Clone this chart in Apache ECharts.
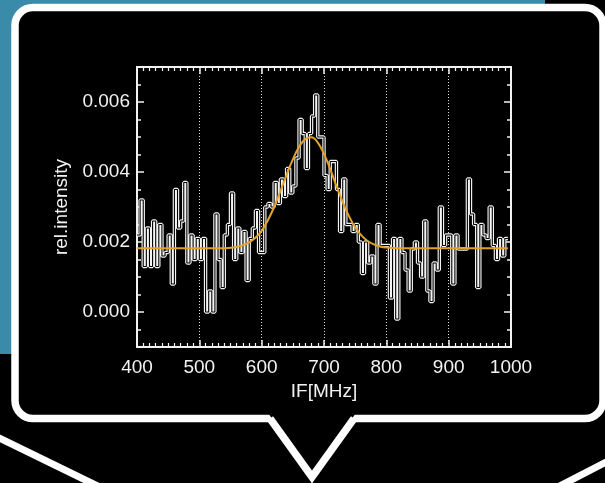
<!DOCTYPE html>
<html>
<head>
<meta charset="utf-8">
<script src="https://cdn.jsdelivr.net/npm/echarts@6/dist/echarts.min.js"></script>
<style>
  html, body { margin: 0; padding: 0; background: #000; }
  #chart { width: 605px; height: 483px; }
</style>
</head>
<body>
<div id="chart"></div>
<script>
// histogram of rel. intensity, 5 MHz bins per 100 MHz block
const binStart = 400
const binWidth = 5
const int400s = [0.0022, 0.0032, 0.0013, 0.0024, 0.0013, 0.0026, 0.0013, 0.0025, 0.0016, 0.0017,
                 0.0022, 0.0008, 0.0035, 0.0024, 0.0026, 0.0037, 0.0014, 0.0022, 0.0015, 0.0021]
const int500s = [0.0015, 0.0021, 0.0000, 0.0006, 0.0000, 0.0028, 0.0015, 0.0007, 0.0022, 0.0025,
                 0.0034, 0.0015, 0.0024, 0.0017, 0.0023, 0.0009, 0.0021, 0.0024, 0.0029, 0.0017]
const int600s = [0.0017, 0.0030, 0.0031, 0.0030, 0.0037, 0.0031, 0.0038, 0.0033, 0.0041, 0.0034,
                 0.0036, 0.0044, 0.0055, 0.0051, 0.0041, 0.0051, 0.0056, 0.0062, 0.0050, 0.0050]
const int700s = [0.0039, 0.0035, 0.0043, 0.0043, 0.0035, 0.0023, 0.0038, 0.0025, 0.0025, 0.0023,
                 0.0025, 0.0020, 0.0011, 0.0020, 0.0014, 0.0016, 0.0008, 0.0025, 0.0019, 0.0019]
const int800s = [0.0019, 0.0004, 0.0021, -0.0002, 0.0021, 0.0017, 0.0012, 0.0006, 0.0018, 0.0020,
                 0.0014, 0.0010, 0.0026, 0.0006, 0.0003, 0.0014, 0.0012, 0.0030, 0.0019, 0.0022]
const int900s = [0.0022, 0.0008, 0.0022, 0.0018, 0.0018, 0.0018, 0.0038, 0.0028, 0.0025, 0.0007,
                 0.0025, 0.0022, 0.0021, 0.0030, 0.0019, 0.0015, 0.0021, 0.0016, 0.0021]

// gaussian fit curve (orange)
const fitFreq = [400, 450, 500, 520, 540, 560, 570, 580, 590, 600, 610, 620, 630, 640, 650, 660, 670,
                 680, 690, 700, 710, 720, 730, 740, 750, 760, 770, 780, 790, 800, 820, 860, 900, 950, 995]
const fitVal = [0.00182, 0.00182, 0.00182, 0.00182, 0.00182, 0.00186, 0.00191, 0.00199, 0.00212, 0.00232,
                0.00262, 0.00300, 0.00345, 0.00392, 0.00436, 0.00472, 0.00494, 0.00499, 0.00484, 0.00452,
                0.00408, 0.00360, 0.00314, 0.00274, 0.00242, 0.00219, 0.00203, 0.00193, 0.00187, 0.00184,
                0.00182, 0.00182, 0.00182, 0.00182, 0.00182]

const yLabels = [0, 0.002, 0.004, 0.006]
const yMinor = [-0.0005, 0.0005, 0.001, 0.0015, 0.0025, 0.003, 0.0035, 0.0045, 0.005, 0.0055, 0.0065]

const intensity = [].concat(int400s, int500s, int600s, int700s, int800s, int900s)
const histData = intensity.map((v, i) => [binStart + i * binWidth, v])
histData.push([binStart + intensity.length * binWidth, intensity[intensity.length - 1]])
const fitData = fitFreq.map((f, i) => [f, fitVal[i]])

const font = 'Liberation Sans, Arial, sans-serif'
const white = '#f2f2f2'

const chart = echarts.init(document.getElementById('chart'))

function yAxisDef(pos, ticks, len, labels) {
  return {
    type: 'value', position: pos, min: -0.001, max: 0.007,
    axisLine: { show: true, onZero: false, lineStyle: { color: white, width: 2 } },
    axisTick: { show: true, inside: true, length: len, customValues: ticks, lineStyle: { color: white, width: 1.5 } },
    axisLabel: labels ? {
      show: true, customValues: yLabels, color: white, fontSize: 19, fontFamily: font, margin: 7,
      formatter: v => v.toFixed(3)
    } : { show: false },
    splitLine: { show: false },
    name: labels ? 'rel.intensity' : '',
    nameLocation: 'middle', nameGap: 64,
    nameTextStyle: { color: white, fontSize: 19, fontFamily: font }
  }
}

function xAxisDef(pos, labels) {
  return {
    type: 'value', position: pos, min: 400, max: 1000, interval: 100,
    axisLine: { show: true, onZero: false, lineStyle: { color: white, width: 2 } },
    axisTick: { show: true, inside: true, length: 7, lineStyle: { color: white, width: 1.5 } },
    minorTick: { show: true, splitNumber: 10, length: 4, lineStyle: { color: white, width: 1.2 } },
    axisLabel: labels ? {
      show: true, color: white, fontSize: 19, fontFamily: font, margin: 11,
      formatter: v => String(v)
    } : { show: false },
    splitLine: labels ? { show: true, lineStyle: { color: '#dddddd', width: 1, type: [1, 2] } } : { show: false },
    name: labels ? 'IF[MHz]' : '',
    nameLocation: 'middle', nameGap: 31,
    nameTextStyle: { color: white, fontSize: 19, fontFamily: font }
  }
}

const option = {
  backgroundColor: '#000',
  animation: false,
  grid: { left: 137, right: 94, top: 67, bottom: 136 },
  xAxis: [xAxisDef('bottom', true), xAxisDef('top', false)],
  yAxis: [
    yAxisDef('left', yLabels, 7, true),
    yAxisDef('left', yMinor, 4, false),
    yAxisDef('right', yLabels, 7, false),
    yAxisDef('right', yMinor, 4, false)
  ],
  graphic: [
    // blue panel behind the bubble
    { type: 'rect', z: -20, shape: { x: 0, y: 0, width: 545, height: 354 }, style: { fill: '#3a8aaa' } },
    // speech bubble
    { type: 'rect', z: -19, shape: { x: 15, y: 7.5, width: 588, height: 411, r: 18 },
      style: { fill: '#000', stroke: '#fff', lineWidth: 7.5 } },
    { type: 'polygon', z: -18, shape: { points: [[268, 413], [312, 474], [356, 413]] }, style: { fill: '#000' } },
    { type: 'polyline', z: -17, shape: { points: [[270, 418.5], [312, 477], [354, 418.5]] },
      style: { stroke: '#fff', lineWidth: 7.5, fill: null, lineJoin: 'miter' } },
    // lines under the bubble
    { type: 'line', z: -17, shape: { x1: -5, y1: 436, x2: 110, y2: 492 }, style: { stroke: '#fff', lineWidth: 7 } },
    { type: 'line', z: -17, shape: { x1: 612, y1: 459, x2: 552, y2: 490 }, style: { stroke: '#fff', lineWidth: 7 } }
  ],
  series: [
    {
      type: 'line', step: 'end', data: histData, showSymbol: false, symbol: 'none',
      lineStyle: { color: '#f4f4f4', width: 3.4 }, z: 3
    },
    {
      type: 'line', step: 'end', data: histData, showSymbol: false, symbol: 'none',
      lineStyle: { color: '#000', width: 1.1 }, z: 4
    },
    {
      type: 'line', smooth: 0.4, data: fitData, showSymbol: false, symbol: 'none',
      lineStyle: { color: '#e3a326', width: 2 }, z: 5
    }
  ]
}
chart.setOption(option)
</script>
</body>
</html>
